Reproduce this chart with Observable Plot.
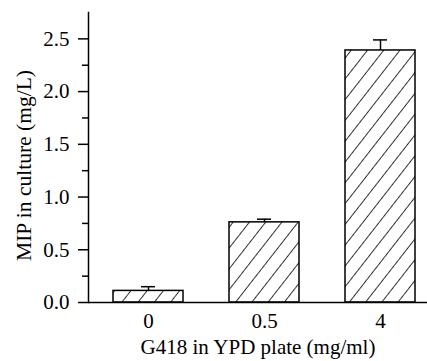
<!DOCTYPE html>
<html>
<head>
<meta charset="utf-8">
<script src="https://cdn.jsdelivr.net/npm/d3@7"></script>
<script src="https://cdn.jsdelivr.net/npm/@observablehq/plot@0.6"></script>
<style>
  html, body { margin: 0; padding: 0; background: #fff; }
  svg text { font-family: 'Liberation Serif', 'Times New Roman', serif; }
</style>
</head>
<body>
<div id="chart"></div>
<script>
const categories = ["0", "0.5", "4"];
const means = [0.11, 0.76, 2.39];
const errors = [0.04, 0.03, 0.10];
const majorTicks = [0, 0.5, 1.0, 1.5, 2.0, 2.5];
const minorTicks = [0.25, 0.75, 1.25, 1.75, 2.25];
const xTitle = "G418 in YPD plate (mg/ml)";
const yTitle = "MIP in culture (mg/L)";

const data = categories.map((c, i) => ({cat: c, mean: means[i], top: means[i] + errors[i]}));

const chart = Plot.plot({
  width: 427,
  height: 361,
  marginLeft: 88,
  marginRight: 0,
  marginTop: 12,
  marginBottom: 59,
  style: {fontFamily: "'Liberation Serif', 'Times New Roman', serif", fontSize: "21px", color: "#000", background: "#fff"},
  x: {domain: categories, paddingInner: 0.4, paddingOuter: 0.153, align: 0.67, label: null},
  y: {domain: [0, 2.75], label: null},
  marks: [
    Plot.barY(data, {x: "cat", y: "mean", fill: "url(#hatch)", stroke: "#000", strokeWidth: 1.5}),
    Plot.ruleX(data, {x: "cat", y1: "mean", y2: "top", stroke: "#000", strokeWidth: 1.5}),
    Plot.tickY(data, {x: "cat", y: "top", stroke: "#000", strokeWidth: 1.5, insetLeft: 28, insetRight: 28}),
    Plot.axisY({ticks: majorTicks, tickSize: 10, tickPadding: 9, tickFormat: d3.format(".1f"), strokeWidth: 1.5, fill: "#000", fontSize: 21, label: null}),
    Plot.axisY({ticks: minorTicks, tickSize: 6, tickFormat: () => "", strokeWidth: 1.5, label: null}),
    Plot.axisX({tickSize: 0, tickPadding: 11, fill: "#000", fontSize: 21, label: null}),
    Plot.frame({anchor: "left", stroke: "#000", strokeWidth: 1.5}),
    Plot.ruleY([0], {stroke: "#000", strokeWidth: 1.5}),
    Plot.text([xTitle], {frameAnchor: "bottom", textAnchor: "middle", lineAnchor: "bottom", dy: 51, fill: "#000", fontSize: 21}),
    Plot.text([yTitle], {frameAnchor: "left", textAnchor: "middle", rotate: -90, dx: -64, dy: 8, fill: "#000", fontSize: 21.5})
  ]
});

const svg = d3.select(chart);
const ang = 38;
const spacing = 12.8;
const pat = svg.insert("defs", ":first-child")
  .append("pattern")
  .attr("id", "hatch")
  .attr("patternUnits", "userSpaceOnUse")
  .attr("width", spacing)
  .attr("height", spacing)
  .attr("patternTransform", `rotate(${ang})`);
pat.append("rect").attr("width", spacing).attr("height", spacing).attr("fill", "#fff");
pat.append("line").attr("x1", 0).attr("y1", 0).attr("x2", 0).attr("y2", spacing)
  .attr("stroke", "#000").attr("stroke-width", 1.6);

document.getElementById("chart").appendChild(chart);
</script>
</body>
</html>
